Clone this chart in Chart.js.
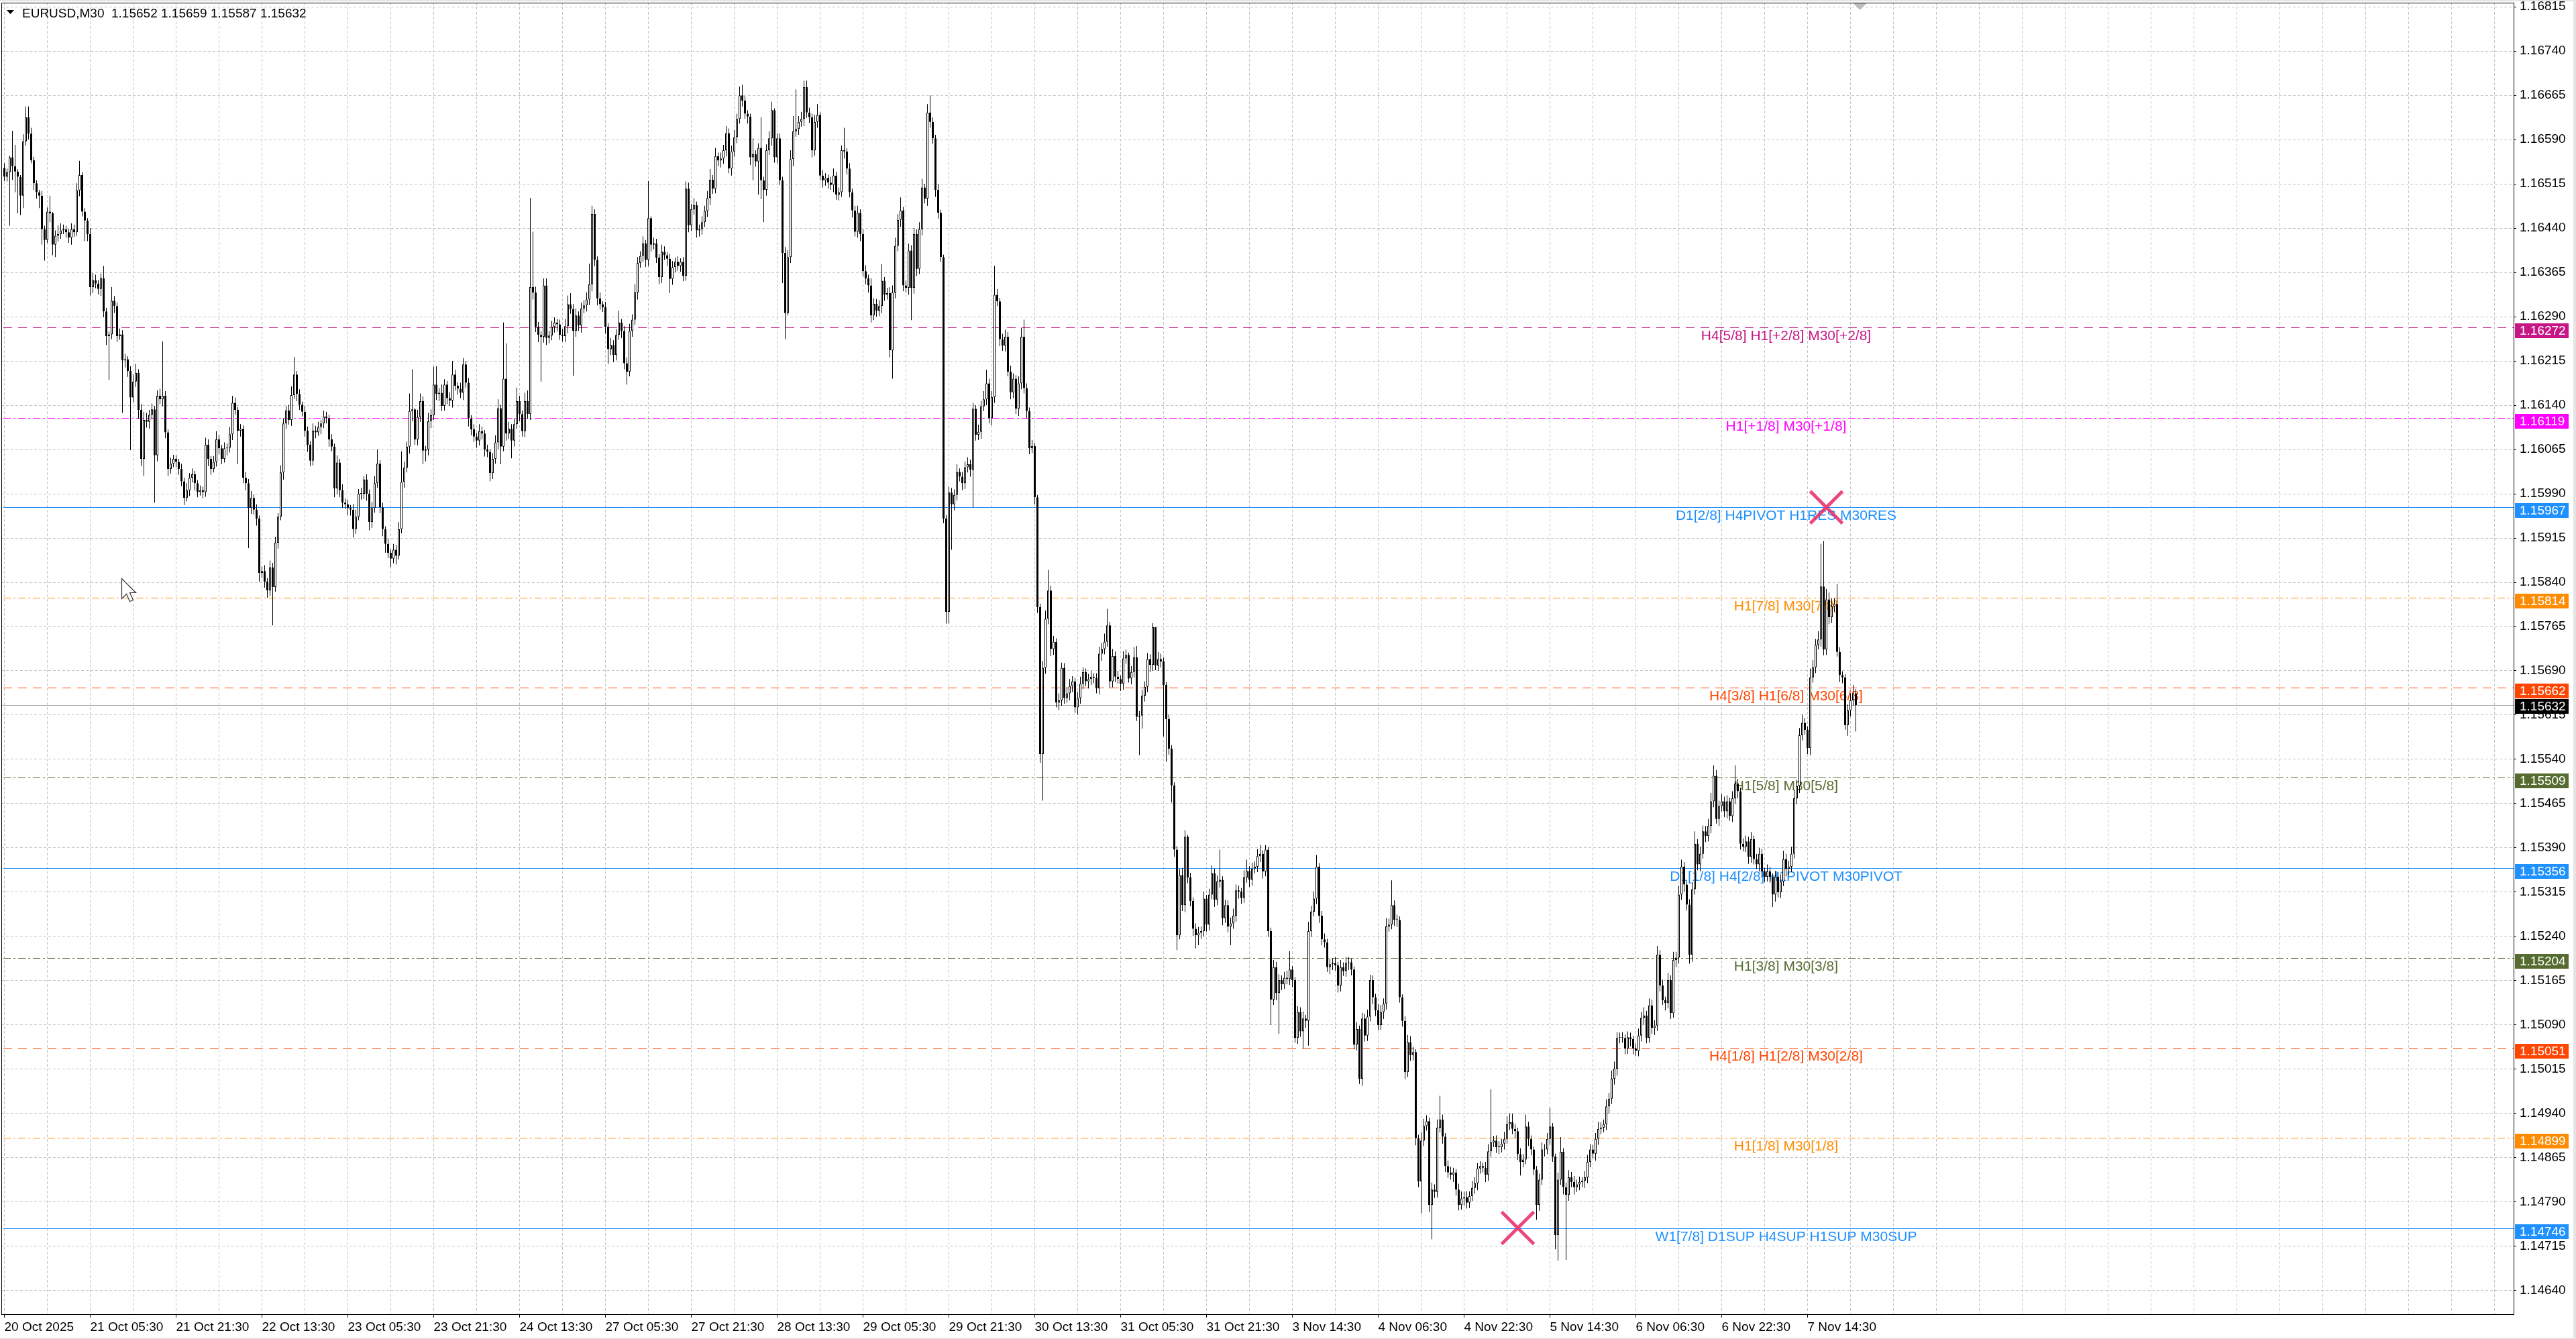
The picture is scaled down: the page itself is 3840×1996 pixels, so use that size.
<!DOCTYPE html>
<html>
<head>
<meta charset="utf-8">
<title>EURUSD,M30</title>
<script src="https://cdn.jsdelivr.net/npm/chart.js"></script>
<style>
  html, body { margin: 0; padding: 0; background: #fff; overflow: hidden; }
  canvas { display: block; }
</style>
</head>
<body>
<canvas id="chart" width="3840" height="1996"></canvas>
<script>
// ---- data (prices in points: 1.1 + pts/100000) ----
const symbolTitle = "EURUSD,M30";
const lastBar = { open: 1.15652, high: 1.15659, low: 1.15587, close: 1.15632 };
const firstOpen = 6542;

const closePts = [
  6527,6535,6560,6545,6536,6527,6495,6587,6628,6600,6555,6516,6501,6495,6438,6420,6468,6465,6412,6427,
  6430,6436,6438,6433,6424,6438,6433,6504,6530,6468,6453,6430,6340,6352,6346,6337,6355,6299,6257,6260,
  6317,6308,6257,6260,6216,6218,6198,6153,6180,6195,6132,6049,6115,6112,6124,6133,6055,6156,6150,6156,
  6094,6032,6041,6049,6044,6032,6011,5983,5996,6017,6023,6008,5993,5996,5993,6073,6049,6032,6044,6082,
  6067,6049,6067,6068,6091,6144,6132,6097,6100,6017,6008,5966,5983,5963,5948,5856,5859,5841,5826,5865,
  5832,5907,5951,6026,6109,6131,6115,6157,6192,6159,6141,6129,6097,6073,6046,6097,6094,6103,6109,6121,
  6118,6082,6070,5999,6043,5996,5975,5972,5966,5963,5930,5951,5990,5990,6014,5990,5942,5966,6008,6041,
  5967,5930,5905,5890,5880,5895,5885,5930,6010,6034,6070,6130,6133,6082,6120,6147,6063,6065,6113,6123,
  6175,6159,6161,6139,6175,6152,6148,6192,6173,6168,6161,6209,6178,6118,6099,6087,6080,6096,6092,6065,
  6061,6025,6049,6077,6135,6070,6185,6092,6100,6080,6108,6147,6125,6096,6147,6125,6340,6331,6273,6259,
  6256,6343,6254,6258,6273,6280,6277,6259,6257,6274,6311,6303,6266,6292,6275,6304,6309,6319,6345,6464,
  6386,6321,6311,6306,6273,6235,6242,6225,6259,6280,6266,6211,6197,6266,6285,6331,6381,6393,6414,6386,
  6457,6412,6414,6390,6357,6400,6394,6388,6354,6374,6383,6376,6383,6359,6507,6445,6472,6479,6436,6438,
  6450,6469,6491,6522,6507,6562,6555,6558,6572,6601,6541,6570,6594,6625,6665,6656,6634,6629,6560,6565,
  6553,6576,6521,6505,6572,6592,6640,6560,6592,6521,6398,6296,6391,6557,6604,6608,6620,6625,6679,6636,
  6628,6572,6620,6632,6529,6521,6525,6517,6513,6529,6497,6501,6572,6570,6541,6501,6470,6434,6466,6430,
  6367,6355,6343,6292,6312,6300,6308,6351,6327,6330,6233,6331,6410,6454,6470,6343,6339,6402,6339,6430,
  6371,6438,6509,6490,6636,6620,6592,6505,6466,6391,5948,5790,5992,5972,5988,6027,6019,6008,6035,6040,
  6031,6134,6090,6095,6138,6150,6177,6118,6154,6327,6316,6252,6241,6256,6197,6162,6185,6134,6177,6256,
  6169,6130,6067,6071,5984,5798,5549,5695,5778,5826,5727,5739,5636,5640,5695,5644,5652,5664,5672,5628,
  5644,5668,5688,5672,5676,5680,5678,5660,5719,5727,5739,5767,5672,5715,5680,5676,5668,5711,5717,5677,
  5688,5713,5612,5614,5648,5663,5710,5700,5764,5699,5710,5706,5666,5608,5558,5496,5387,5242,5344,5293,
  5409,5340,5300,5253,5242,5246,5249,5304,5260,5311,5347,5302,5333,5336,5271,5293,5257,5262,5275,5318,
  5316,5305,5340,5351,5336,5355,5358,5376,5380,5350,5387,5249,5133,5188,5144,5166,5159,5170,5168,5184,
  5166,5068,5112,5079,5101,5097,5249,5282,5304,5358,5275,5235,5230,5188,5193,5195,5191,5157,5188,5181,
  5195,5196,5184,5057,5083,4999,5101,5072,5104,5166,5137,5115,5090,5112,5126,5257,5260,5293,5268,5268,
  5137,5097,5010,5061,5039,5044,4898,4825,4894,4919,4927,4785,4811,4807,4916,4930,4901,4851,4840,4836,
  4840,4811,4785,4796,4798,4789,4800,4814,4822,4847,4851,4848,4836,4876,4891,4894,4883,4883,4889,4897,
  4922,4925,4914,4910,4871,4858,4862,4918,4897,4879,4845,4785,4828,4879,4879,4897,4918,4867,4734,4828,
  4875,4815,4802,4832,4824,4815,4820,4824,4826,4832,4858,4879,4872,4897,4914,4916,4922,4952,4965,4999,
  5016,5068,5069,5068,5050,5069,5066,5050,5046,5072,5102,5106,5068,5123,5085,5089,5209,5157,5132,5127,
  5166,5110,5200,5204,5311,5358,5328,5294,5209,5320,5397,5362,5380,5418,5410,5427,5469,5512,5439,5461,
  5469,5452,5469,5444,5474,5499,5486,5397,5392,5401,5375,5405,5371,5362,5380,5350,5341,5350,5341,5311,
  5341,5315,5333,5371,5354,5358,5380,5474,5495,5581,5602,5590,5559,5679,5696,5734,5743,5833,5726,5811,
  5781,5799,5803,5722,5683,5679,5598,5623,5640,5652,5632
];

// wick lengths above / below the body, in points
const upWick = [
  8,6,3,45,36,4,3,12,18,18,10,6,5,4,8,6,7,27,2,9,
  15,12,8,6,5,10,8,12,24,5,6,4,10,12,9,6,8,21,6,5,
  23,8,6,10,7,9,5,8,12,15,6,10,14,12,8,10,6,9,12,92,
  8,5,10,7,6,5,9,6,12,8,10,6,5,8,6,12,9,5,10,14,
  8,6,10,7,12,12,9,5,8,6,10,7,12,6,9,5,8,10,6,12,
  8,10,6,12,9,8,10,15,30,6,8,5,10,7,6,12,8,9,6,10,
  8,6,9,5,12,6,10,7,8,5,9,12,8,10,6,9,7,10,12,24,
  6,8,5,9,6,10,8,12,52,10,8,30,68,2,12,13,8,6,14,10,
  30,31,8,14,9,6,10,23,8,6,10,11,6,8,5,9,6,12,8,6,
  8,5,10,12,15,6,95,60,12,8,10,23,9,6,14,18,151,94,10,8,
  6,12,12,8,10,9,6,8,10,12,15,19,8,12,7,10,9,12,35,14,
  8,6,10,5,9,6,12,8,10,20,6,8,10,12,9,14,10,8,12,6,
  63,3,10,8,6,12,9,5,8,10,7,9,6,8,12,10,9,12,6,8,
  10,9,12,18,8,14,6,10,9,12,8,10,12,9,15,18,8,6,5,27,
  7,8,52,6,10,12,14,3,9,8,6,10,12,15,26,67,10,12,11,11,
  8,6,12,18,5,9,8,6,10,12,6,8,8,38,5,9,6,8,12,6,
  8,10,6,12,9,8,10,28,6,9,10,12,14,10,22,6,8,12,9,10,
  8,12,15,6,14,29,8,6,10,5,4,6,10,8,9,13,6,8,10,12,
  8,10,6,12,9,14,23,8,10,49,10,6,9,12,8,10,9,6,12,15,
  29,8,6,10,5,4,6,12,14,35,8,10,6,12,9,8,10,12,9,6,
  10,12,8,6,9,10,6,8,12,10,14,28,6,12,8,10,6,12,9,4,
  10,17,19,8,10,9,10,8,7,0,12,9,6,5,8,6,5,6,10,12,
  11,3,8,6,9,10,8,12,6,10,13,8,10,51,6,9,8,10,12,10,
  8,6,12,19,8,10,9,12,15,6,8,5,6,12,9,10,8,10,12,31,
  6,5,10,8,12,6,16,10,12,20,6,8,10,6,9,8,10,6,12,8,
  10,9,6,5,12,6,10,8,12,9,8,6,10,12,9,14,10,42,8,9,
  6,5,8,12,10,9,5,6,14,12,10,6,12,9,14,40,8,6,9,10,
  8,6,10,12,9,10,8,12,10,9,8,6,10,12,90,8,9,10,8,12,
  13,15,15,8,6,10,9,20,8,6,5,6,10,12,9,10,32,6,5,12,
  25,6,8,12,9,10,8,9,6,10,12,9,8,10,12,9,8,12,10,14,
  12,10,8,9,6,10,8,6,9,12,10,14,8,12,10,9,15,8,10,6,
  12,8,14,10,15,12,8,6,9,12,21,8,12,10,9,12,14,18,10,9,
  12,8,10,6,12,31,8,6,9,10,8,12,6,9,10,8,6,12,8,6,
  10,8,12,14,9,10,12,15,10,12,14,8,6,15,12,10,14,72,77,18,
  12,14,10,34,8,6,5,10,12,14,7
];
const dnWick = [
  7,8,91,23,35,62,33,21,7,10,5,11,11,21,26,35,5,15,18,21,
  10,8,6,9,9,12,8,6,10,8,35,12,14,10,8,9,12,10,15,74,
  8,12,10,6,89,12,10,89,8,9,15,12,29,10,12,8,80,10,8,12,
  10,12,8,6,9,10,8,12,6,10,8,12,9,6,10,8,12,10,6,8,
  10,9,6,12,8,10,8,57,10,9,12,68,10,8,12,15,8,10,12,9,
  65,8,10,6,12,9,8,10,6,12,9,8,10,12,9,8,10,6,12,8,
  9,12,8,15,10,12,9,8,12,10,14,8,6,10,9,12,14,10,8,8,
  10,12,15,9,14,8,15,6,7,10,8,12,17,9,10,8,23,18,10,12,
  8,10,12,9,8,10,9,12,8,10,9,12,8,14,10,9,12,8,10,12,
  9,14,10,8,12,30,8,12,9,30,10,8,12,9,10,8,10,12,9,12,
  76,10,12,9,8,10,12,8,9,10,12,8,76,10,9,12,8,10,9,12,
  10,12,9,8,12,25,10,12,9,8,12,10,22,8,10,9,12,8,10,12,
  10,12,8,9,12,10,8,12,24,10,9,8,10,9,8,12,10,9,12,10,
  9,8,10,12,9,8,10,12,9,10,8,12,9,10,8,10,9,12,13,39,
  9,56,32,55,10,8,12,9,10,8,51,44,4,10,12,9,10,8,12,9,
  10,12,9,10,8,12,9,10,8,12,9,10,8,12,10,9,12,8,10,12,
  9,10,12,12,8,10,9,12,10,8,12,48,10,9,12,10,8,12,55,10,
  12,9,10,8,12,10,9,12,10,8,8,20,20,77,10,9,8,12,10,9,
  12,64,10,9,12,8,10,9,12,10,8,12,9,10,8,12,10,9,12,10,
  9,12,10,8,12,10,15,79,10,9,12,10,8,12,9,10,8,12,10,9,
  12,10,9,8,12,10,9,8,10,12,9,8,12,10,9,8,12,10,9,7,
  10,9,7,65,22,10,9,12,10,8,9,10,87,72,10,29,12,25,7,10,
  12,10,9,12,22,17,10,9,12,10,8,12,9,10,12,8,10,32,9,10,
  12,10,8,9,12,10,8,9,10,12,8,10,43,9,12,69,10,8,9,10,
  12,8,10,9,29,12,42,10,8,9,12,10,9,8,12,10,9,12,10,8,
  9,12,10,8,10,9,12,10,9,8,12,10,9,8,12,10,9,8,10,12,
  9,10,12,8,10,9,12,10,54,9,8,12,58,10,9,8,12,10,9,8,
  12,10,9,8,12,10,9,8,10,12,9,8,12,10,9,8,10,12,9,10,
  8,10,9,12,10,23,9,8,12,10,9,25,10,9,12,8,10,9,24,43,
  9,12,110,10,9,12,8,10,9,12,10,9,8,12,10,9,8,10,12,9,
  10,12,9,8,10,9,12,10,8,9,10,12,9,8,10,12,9,10,8,12,
  9,10,8,12,10,9,12,10,15,12,9,10,12,8,10,9,12,10,8,12,
  9,10,12,8,10,9,12,10,8,9,12,10,9,8,12,10,9,8,10,21,
  12,9,10,8,12,10,9,8,10,12,9,8,10,12,9,10,8,12,10,9,
  12,10,9,8,12,10,8,18,10,9,45
];

// time labels, one every 32 bars
const tickLabels = [
  "20 Oct 2025", "21 Oct 05:30", "21 Oct 21:30", "22 Oct 13:30", "23 Oct 05:30", "23 Oct 21:30",
  "24 Oct 13:30", "27 Oct 05:30", "27 Oct 21:30", "28 Oct 13:30", "29 Oct 05:30", "29 Oct 21:30",
  "30 Oct 13:30", "31 Oct 05:30", "31 Oct 21:30", "3 Nov 14:30", "4 Nov 06:30", "4 Nov 22:30",
  "5 Nov 14:30", "6 Nov 06:30", "6 Nov 22:30", "7 Nov 14:30"
];
const yTicks = [
  1.14640, 1.14715, 1.14790, 1.14865, 1.14940, 1.15015, 1.15090, 1.15165, 1.15240, 1.15315,
  1.15390, 1.15465, 1.15540, 1.15615, 1.15690, 1.15765, 1.15840, 1.15915, 1.15990, 1.16065,
  1.16140, 1.16215, 1.16290, 1.16365, 1.16440, 1.16515, 1.16590, 1.16665, 1.16740, 1.16815
];

// Murrey levels
const levelPrices = [1.16272, 1.16119, 1.15967, 1.15814, 1.15662, 1.15509, 1.15356, 1.15204, 1.15051, 1.14899, 1.14746];
const levelTexts = [
  "H4[5/8] H1[+2/8] M30[+2/8]",
  "H1[+1/8] M30[+1/8]",
  "D1[2/8] H4PIVOT H1RES M30RES",
  "H1[7/8] M30[7/8]",
  "H4[3/8] H1[6/8] M30[6/8]",
  "H1[5/8] M30[5/8]",
  "D1[1/8] H4[2/8] H1PIVOT M30PIVOT",
  "H1[3/8] M30[3/8]",
  "H4[1/8] H1[2/8] M30[2/8]",
  "H1[1/8] M30[1/8]",
  "W1[7/8] D1SUP H4SUP H1SUP M30SUP"
];

// the two cross marks
const markerBars = [679, 564];
const markerPrices = [1.15967, 1.14746];

// ---- styles ----
const FONT = "'Liberation Sans', Arial, sans-serif";
const DASH = [13, 9];
const DASHDOT = [11, 4, 3, 4];
const levelStyles = [
  { color: "#C71585", dash: DASH },
  { color: "#FF00FF", dash: DASHDOT },
  { color: "#1E90FF", dash: [] },
  { color: "#FF8C00", dash: DASHDOT },
  { color: "#FF4500", dash: DASH },
  { color: "#556B2F", dash: DASHDOT },
  { color: "#1E90FF", dash: [] },
  { color: "#556B2F", dash: DASHDOT },
  { color: "#FF4500", dash: DASH },
  { color: "#FF8C00", dash: DASHDOT },
  { color: "#1E90FF", dash: [] }
];
const labelBar = 664;   // where the level names sit
const shiftBar = 691.5; // chart shift marker
const cursorAt = { x: 181, y: 862 }; // mouse pointer left in the screenshot

const pt = p => Math.round((1.1 + p / 1e5) * 1e5) / 1e5;

const candles = closePts.map((c, i) => {
  const o = i === 0 ? firstOpen : closePts[i - 1];
  return {
    x: i,
    o: pt(o),
    c: pt(c),
    h: pt(Math.max(o, c) + upWick[i]),
    l: pt(Math.min(o, c) - dnWick[i])
  };
});

const noPad = s => { s.paddingLeft = 0; s.paddingRight = 0; s.paddingTop = 0; s.paddingBottom = 0; };

const mt4Look = {
  id: "mt4Look",
  beforeDraw(chart) {
    const { ctx, width, height } = chart;
    ctx.save();
    ctx.fillStyle = "#e4e4e4";
    ctx.fillRect(0, 0, width, height);
    ctx.fillStyle = "#fff";
    ctx.fillRect(0, 2, width - 4, height - 4);
    ctx.restore();
  },
  beforeDatasetsDraw(chart) {
    const { ctx, chartArea: a, scales: { x, y } } = chart;
    ctx.save();
    ctx.beginPath();
    ctx.rect(a.left, a.top, a.right - a.left, a.bottom - a.top);
    ctx.clip();
    ctx.lineWidth = 1;

    // bid line
    const yb = Math.round(y.getPixelForValue(lastBar.close)) + 0.5;
    ctx.strokeStyle = "#a8a8a8";
    ctx.setLineDash([]);
    ctx.beginPath();
    ctx.moveTo(a.left, yb);
    ctx.lineTo(a.right, yb);
    ctx.stroke();

    ctx.font = "21px " + FONT;
    ctx.textAlign = "center";
    ctx.textBaseline = "alphabetic";
    const lx = x.getPixelForValue(labelBar);
    levelPrices.forEach((p, i) => {
      const st = levelStyles[i];
      const yy = Math.round(y.getPixelForValue(p)) + 0.5;
      ctx.strokeStyle = st.color;
      ctx.setLineDash(st.dash);
      ctx.beginPath();
      ctx.moveTo(a.left + 3, yy);
      ctx.lineTo(a.right, yy);
      ctx.stroke();
      ctx.setLineDash([]);
      ctx.fillStyle = st.color;
      ctx.fillText(levelTexts[i], lx, yy + 18);
    });
    ctx.restore();
  },
  afterDraw(chart) {
    const { ctx, chartArea: a, scales: { x, y } } = chart;
    ctx.save();

    // left and top frame
    ctx.strokeStyle = "#000";
    ctx.lineWidth = 1;
    ctx.beginPath();
    ctx.moveTo(a.left + 0.5, a.bottom);
    ctx.lineTo(a.left + 0.5, a.top + 0.5);
    ctx.lineTo(a.right, a.top + 0.5);
    ctx.stroke();

    // shift marker
    const sx = x.getPixelForValue(shiftBar);
    ctx.fillStyle = "#bdbdbd";
    ctx.beginPath();
    ctx.moveTo(sx - 10, a.top + 1);
    ctx.lineTo(sx + 10, a.top + 1);
    ctx.lineTo(sx, a.top + 11);
    ctx.closePath();
    ctx.fill();

    // mouse pointer
    const cp = [[0, 0], [0, 30], [7, 23], [12, 34], [17, 32], [12, 21], [21, 21]];
    ctx.beginPath();
    cp.forEach(([px, py], i) => {
      const X = cursorAt.x + px + 0.5, Y = cursorAt.y + py + 0.5;
      if (i) ctx.lineTo(X, Y); else ctx.moveTo(X, Y);
    });
    ctx.closePath();
    ctx.fillStyle = "#fff";
    ctx.fill();
    ctx.strokeStyle = "#333";
    ctx.lineWidth = 1.2;
    ctx.stroke();

    // price boxes on the axis
    const boxes = levelPrices.map((p, i) => ({ p, color: levelStyles[i].color, off: 6 }));
    boxes.push({ p: lastBar.close, color: "#000", off: 9 });
    ctx.font = "19px " + FONT;
    ctx.textAlign = "left";
    ctx.textBaseline = "middle";
    boxes.forEach(b => {
      const yy = Math.round(y.getPixelForValue(b.p));
      const top = yy - b.off;
      ctx.fillStyle = b.color;
      ctx.fillRect(a.right + 2, top, 80, 22);
      ctx.fillStyle = "#fff";
      ctx.fillText(b.p.toFixed(5), a.right + 9, top + 12);
    });

    // header
    ctx.fillStyle = "#000";
    ctx.beginPath();
    ctx.moveTo(10, 15);
    ctx.lineTo(21, 15);
    ctx.lineTo(15.5, 21);
    ctx.closePath();
    ctx.fill();
    ctx.font = "19px " + FONT;
    ctx.textBaseline = "alphabetic";
    const head = symbolTitle + "  " + [lastBar.open, lastBar.high, lastBar.low, lastBar.close].map(v => v.toFixed(5)).join(" ");
    ctx.fillText(head, 33, 26);
    ctx.restore();
  }
};

const ctx = document.getElementById("chart").getContext("2d");
const chart = new Chart(ctx, {
  type: "bar",
  data: {
    datasets: [
      {
        type: "scatter",
        label: "marks",
        data: markerBars.map((b, i) => ({ x: b, y: markerPrices[i] })),
        pointStyle: "crossRot",
        pointRadius: 34,
        pointBorderWidth: 5,
        pointBorderColor: "rgba(230,40,100,0.85)",
        pointBackgroundColor: "rgba(230,40,100,0.85)",
        showLine: false,
        order: 0
      },
      {
        label: "bodies",
        data: candles.map(k => ({ x: k.x, y: [k.o, k.c] })),
        backgroundColor: c => {
          const k = candles[c.dataIndex];
          return k && k.c >= k.o ? "#fff" : "#000";
        },
        borderColor: "#000",
        borderWidth: 1,
        borderSkipped: false,
        barThickness: 3,
        minBarLength: 1,
        inflateAmount: 0,
        grouped: false,
        order: 1
      },
      {
        label: "wicks",
        data: candles.map(k => ({ x: k.x, y: [k.l, k.h] })),
        backgroundColor: "#000",
        borderWidth: 0,
        barThickness: 1,
        inflateAmount: 0,
        grouped: false,
        order: 2
      }
    ]
  },
  options: {
    responsive: false,
    animation: false,
    devicePixelRatio: 1,
    events: [],
    layout: { autoPadding: false, padding: { top: 4, left: 2, right: 0, bottom: 0 } },
    plugins: { legend: { display: false }, tooltip: { enabled: false } },
    scales: {
      x: {
        type: "linear",
        min: -1.125,
        max: 935.125,
        offset: false,
        afterBuildTicks: s => {
          const t = [];
          for (let v = 0; v <= s.max; v += 16) t.push({ value: v });
          s.ticks = t;
        },
        afterFit: s => { s.height = 37; noPad(s); },
        ticks: {
          autoSkip: false,
          maxRotation: 0,
          minRotation: 0,
          align: "start",
          padding: 3,
          color: "#000",
          font: { family: FONT, size: 19 },
          callback: v => (v % 32 === 0 && tickLabels[v / 32]) || ""
        },
        grid: {
          color: "#c4c4c4",
          lineWidth: 1,
          offset: false,
          tickLength: 5,
          tickColor: c => (c.tick && c.tick.value % 32 === 0 && tickLabels[c.tick.value / 32]) ? "#000" : "rgba(0,0,0,0)"
        },
        border: { color: "#000", width: 1, dash: [4, 3] }
      },
      y: {
        type: "linear",
        position: "right",
        min: 1.14600,
        max: 1.16822,
        afterBuildTicks: s => { s.ticks = yTicks.map(v => ({ value: v })); },
        afterFit: s => { s.width = 93; noPad(s); },
        ticks: {
          padding: 5,
          color: "#000",
          font: { family: FONT, size: 19 },
          callback: v => v.toFixed(5)
        },
        grid: { color: "#c4c4c4", lineWidth: 1, tickLength: 4, tickColor: "#000" },
        border: { color: "#000", width: 1, dash: [4, 3] }
      }
    }
  },
  plugins: [mt4Look]
});
</script>
</body>
</html>
